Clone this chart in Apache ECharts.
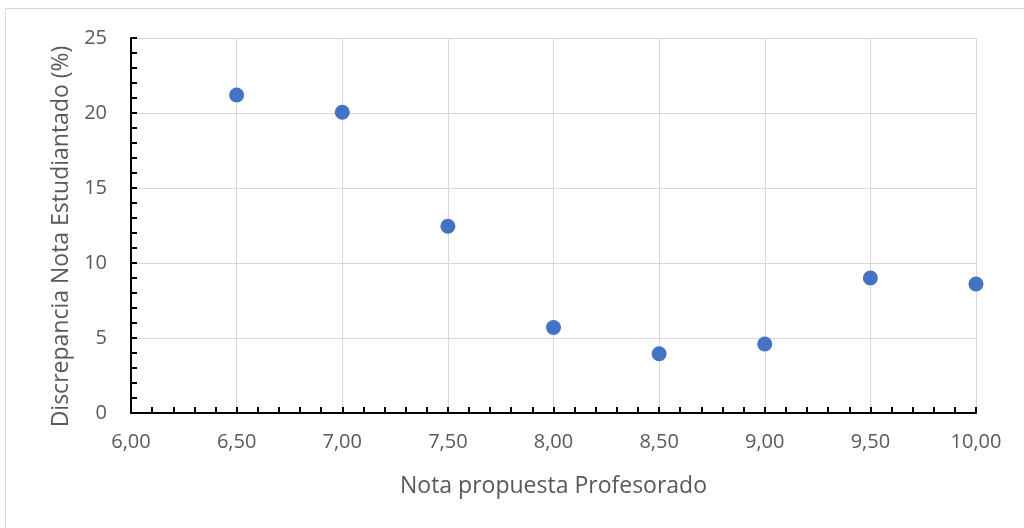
<!DOCTYPE html>
<html>
<head>
<meta charset="utf-8">
<script src="https://cdn.jsdelivr.net/npm/echarts@6/dist/echarts.min.js"></script>
<style>
  html, body { margin: 0; padding: 0; background: #fff; }
  #chart { width: 1024px; height: 528px; }
</style>
</head>
<body>
<div id="chart"></div>
<script>
var notaProfesorado = [6.5, 7.0, 7.5, 8.0, 8.5, 9.0, 9.5, 10.0];
var discrepancia = [21.2, 20.05, 12.45, 5.7, 3.95, 4.6, 9.0, 8.6];

var puntos = notaProfesorado.map(function (x, i) { return [x, discrepancia[i]]; });

var fuente = 'Open Sans';
var negro = { color: '#000', width: 2 };

// eje solo con las marcas, desplazado hacia dentro para que queden por dentro
function ejeMarcas(extra) {
  return Object.assign({
    type: 'value',
    offset: -6,
    axisLine: { show: false },
    axisLabel: { show: false },
    splitLine: { show: false },
    axisTick: { show: true, length: 6, lineStyle: negro },
    minorTick: { show: true, splitNumber: 5, length: 6, lineStyle: negro }
  }, extra);
}

var chart = echarts.init(document.getElementById('chart'));
chart.setOption({
  animation: false,
  backgroundColor: '#ffffff',
  graphic: [{
    type: 'rect',
    shape: { x: 5.5, y: 8.5, width: 1040, height: 560 },
    style: { fill: 'none', stroke: '#d9d9d9', lineWidth: 1 },
    silent: true
  }],
  grid: { left: 131, right: 48, top: 38, bottom: 115 },
  xAxis: [{
    type: 'value',
    min: 6, max: 10, interval: 0.5,
    name: 'Nota propuesta Profesorado',
    nameLocation: 'middle',
    nameGap: 62,
    nameTextStyle: { color: '#595959', fontSize: 23, fontFamily: fuente },
    axisLine: { show: true, onZero: false, lineStyle: negro },
    axisTick: { show: false },
    splitLine: { show: true, lineStyle: { color: '#d9d9d9', width: 1 } },
    axisLabel: {
      color: '#595959', fontSize: 20, fontFamily: fuente, margin: 19,
      formatter: function (v) { return v.toFixed(2).replace('.', ','); }
    }
  }, ejeMarcas({ min: 6, max: 10, interval: 0.5, position: 'bottom' })],
  yAxis: [{
    type: 'value',
    min: 0, max: 25, interval: 5,
    name: 'Discrepancia Nota Estudiantado (%)',
    nameLocation: 'middle',
    nameGap: 57,
    nameTextStyle: { color: '#595959', fontSize: 23, fontFamily: fuente, padding: [0, 22, 0, 0] },
    axisLine: { show: true, onZero: false, lineStyle: negro },
    axisTick: { show: false },
    splitLine: { show: true, lineStyle: { color: '#d9d9d9', width: 1 } },
    axisLabel: { color: '#595959', fontSize: 20, fontFamily: fuente, margin: 24 }
  }, ejeMarcas({ min: 0, max: 25, interval: 5, position: 'left' })],
  series: [{
    type: 'scatter',
    data: puntos,
    symbol: 'circle',
    symbolSize: 15,
    itemStyle: { color: '#4472c4', opacity: 1 }
  }]
});
</script>
</body>
</html>
